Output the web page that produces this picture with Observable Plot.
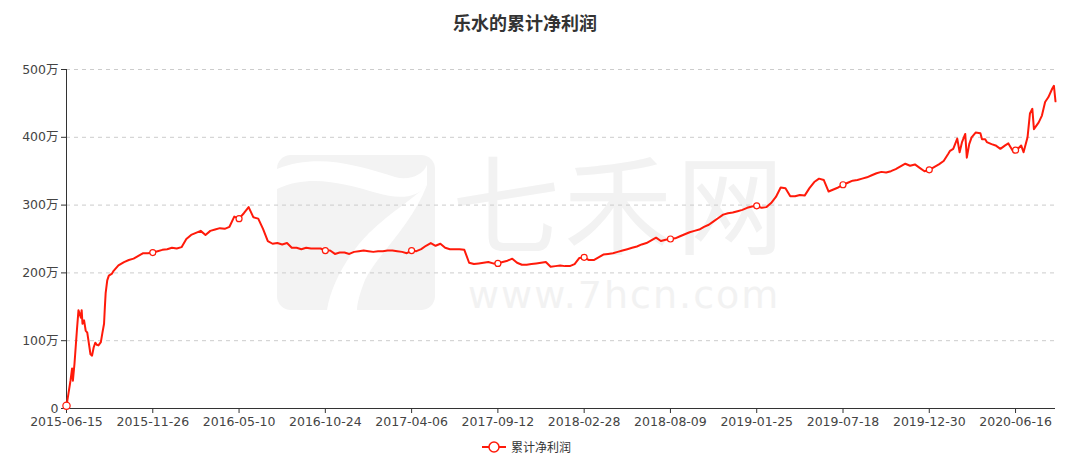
<!DOCTYPE html>
<html>
<head>
<meta charset="utf-8">
<script src="https://cdn.jsdelivr.net/npm/d3@7"></script>
<script src="https://cdn.jsdelivr.net/npm/@observablehq/plot@0.6"></script>
<style>
  body { margin: 0; background: #fff; }
  #wrap { position: relative; width: 1073px; height: 466px; overflow: hidden; font-family: "DejaVu Sans", "Noto Sans CJK SC", sans-serif; }
  #title { position: absolute; left: 0; top: 0; width: 1050px; height: 44px; line-height: 44px; text-align: center; font-size: 18px; font-weight: bold; color: #333; font-family: "Noto Sans CJK SC", sans-serif; }
  #chart { position: absolute; left: 0; top: 40px; z-index: 1; }
  #chart svg { background: transparent; }
  .wm { position: absolute; color: #f2f2f2; z-index: 0; font-family: "Noto Sans CJK SC", sans-serif; white-space: nowrap; line-height: 1; }
  #logo { position: absolute; left: 277px; top: 155px; z-index: 0; }
  #legend { position: absolute; left: 0; top: 436px; width: 1073px; height: 22px; z-index: 1; }
</style>
</head>
<body>
<div id="wrap">
  <svg id="logo" width="158" height="155" viewBox="0 0 158 155">
    <rect x="0" y="0" width="158" height="155" rx="14" fill="#f3f3f3"/>
    <path d="M0,14 C40,-2 80,10 118,22 C132,26 146,20 150,10 L150,30 C140,44 120,44 100,38 C70,30 35,18 0,34 Z" fill="#fff"/>
    <path d="M150,30 C135,70 100,100 88,125 C82,140 80,150 80,155 L50,155 C54,130 70,100 92,78 C115,56 135,45 150,30 Z" fill="#fff"/>
  </svg>
  <div class="wm" style="left:452px; top:145px; font-size:108px; letter-spacing:4px;">七禾网</div>
  <div class="wm" style="left:468px; top:276px; font-size:38px; font-family:'DejaVu Sans',sans-serif; letter-spacing:2px;">www.7hcn.com</div>
  <div id="title">乐水的累计净利润</div>
  <div id="chart"></div>
  <div id="legend"></div>
</div>
<script>
// x tick labels (one every labelStep trading days)
const labels = ["2015-06-15","2015-11-26","2016-05-10","2016-10-24","2017-04-06","2017-09-12","2018-02-28","2018-08-09","2019-01-25","2019-07-18","2019-12-30","2020-06-16"];
const labelStep = 108;
const lastDay = 1238;
const yTicks = [0, 100, 200, 300, 400, 500]; // 万
const seriesName = "累计净利润";
// [trading-day index, cumulative net profit in 万]
const series = [
[0,4],[5,41],[7,59],[8,41],[10,66],[13,115],[15,145],[18,134],[19,145],[20,125],[22,130],[24,115],[26,112],[28,96],[30,80],[32,78],[34,90],[36,97],[38,94],[40,93],[43,98],[45,112],[47,125],[48,149],[49,170],[51,189],[53,196],[57,199],[59,203],[65,211],
[72,216],[78,219],[84,221],[90,225],[96,229],[102,229],[108,230],[114,232],[120,234],[126,235],[132,237],[138,236],[144,238],[150,250],[156,256],[162,259],[168,262],[174,256],[180,262],[186,264],[192,266],[198,265],[204,268],[210,283],[216,280],[222,288],[228,297],[234,282],[240,280],[246,265],[252,247],[258,243],[264,244],[270,242],[276,244],[282,237],[288,237],[294,235],[300,237],[306,236],[312,236],[318,236],[324,233],[330,233],[336,228],[342,230],[348,230],[354,228],[360,231],[366,232],[372,233],[378,232],[384,231],[390,232],[396,232],[402,233],[408,233],[414,232],[420,231],[426,229],[432,233],[438,232],[444,235],[450,240],[456,244],[462,240],[468,243],[474,237],[480,235],[486,235],[492,235],[498,234],
[504,215],[510,213],[516,214],[522,215],[528,216],[534,214],[540,214],[546,216],[552,218],[558,221],[564,215],[570,212],[576,212],[582,213],[588,214],[594,215],[600,216],[606,209],[612,210],[618,211],[624,210],[630,210],[636,213],[642,222],[648,223],[654,219],[660,219],[666,223],[672,227],[678,228],[684,229],[690,231],[696,233],[702,235],[708,237],[714,239],[720,242],[726,244],[732,248],[738,252],[744,247],[750,249],[756,250],[762,251],[768,254],[774,257],[780,260],[786,262],[792,264],[798,268],[804,271],[810,276],[816,281],[822,286],[828,288],[834,289],[840,291],[846,293],[852,296],[858,298],[864,299],[870,296],[876,297],[882,303],[888,312],[894,326],[900,325],[906,313],[912,313],[918,315],[924,314],[930,325],[936,334],[942,339],[948,337],[954,320],[960,323],[966,326],[972,330],[978,333],[984,336],[990,337],[996,339],[1002,341],[1008,344],[1014,347],[1020,349],[1026,348],[1032,350],[1038,353],[1044,357],[1050,361],[1056,358],[1062,360],[1068,355],[1074,350],[1080,352],[1086,356],[1092,360],[1098,365],
[1104,376],[1106,380],[1110,383],[1115,398],[1118,378],[1121,393],[1125,405],[1127,370],[1130,390],[1133,400],[1138,407],[1144,406],[1146,397],[1150,397],[1152,393],[1158,390],[1163,388],[1169,383],[1175,388],[1179,391],[1185,379],[1188,381],[1190,382],[1195,388],[1198,378],[1203,400],[1206,435],[1209,442],[1211,412],[1217,422],[1221,432],[1225,452],[1229,459],[1234,472],[1236,476],[1238,453]
];

const tickDays = labels.map((_, i) => i * labelStep);
const axisFont = "'DejaVu Sans', 'Noto Sans CJK SC', sans-serif";
const red = "#ff1a0a";

const chart = Plot.plot({
  width: 1073,
  height: 395,
  marginLeft: 66,
  marginRight: 18,
  marginTop: 29,
  marginBottom: 27,
  style: { fontFamily: axisFont, fontSize: "12px", color: "#444", background: "transparent" },
  x: { domain: [0, lastDay], label: null },
  y: { domain: [0, 500], label: null },
  marks: [
    Plot.gridY(yTicks.filter(d => d > 0), { stroke: "#ccc", strokeOpacity: 1, strokeDasharray: "4,4" }),
    Plot.axisX({ ticks: tickDays, tickFormat: d => labels[Math.round(d / labelStep)], tickSize: 5, tickPadding: 4, stroke: "#333", fill: "#444", fontSize: 12.5 }),
    Plot.axisY({ ticks: yTicks, tickFormat: d => d === 0 ? "0" : d + "万", tickSize: 5, tickPadding: 3, stroke: "#333", fill: "#444", fontSize: 12.5 }),
    Plot.ruleY([0], { stroke: "#333", strokeWidth: 1 }),
    Plot.ruleX([0], { stroke: "#333", strokeWidth: 1 }),
    Plot.line(series, { x: d => d[0], y: d => d[1], stroke: red, strokeWidth: 2 }),
    Plot.dot(series.filter(d => d[0] % labelStep === 0), { x: d => d[0], y: d => d[1], r: d => d[0] === 0 ? 2.8 : 1.9, fill: "white", stroke: red, strokeWidth: 1.2 })
  ]
});
document.getElementById("chart").appendChild(chart);

// legend
const lg = d3.select("#legend").append("svg").attr("width", 1073).attr("height", 22);
lg.append("line").attr("x1", 482).attr("x2", 506).attr("y1", 11).attr("y2", 11).attr("stroke", red).attr("stroke-width", 2);
lg.append("circle").attr("cx", 494).attr("cy", 11).attr("r", 5).attr("fill", "white").attr("stroke", red).attr("stroke-width", 1.5);
lg.append("text").attr("x", 511).attr("y", 15.5).attr("fill", "#333").attr("font-size", 12).attr("font-family", "'Noto Sans CJK SC', sans-serif").text(seriesName);
</script>
</body>
</html>
